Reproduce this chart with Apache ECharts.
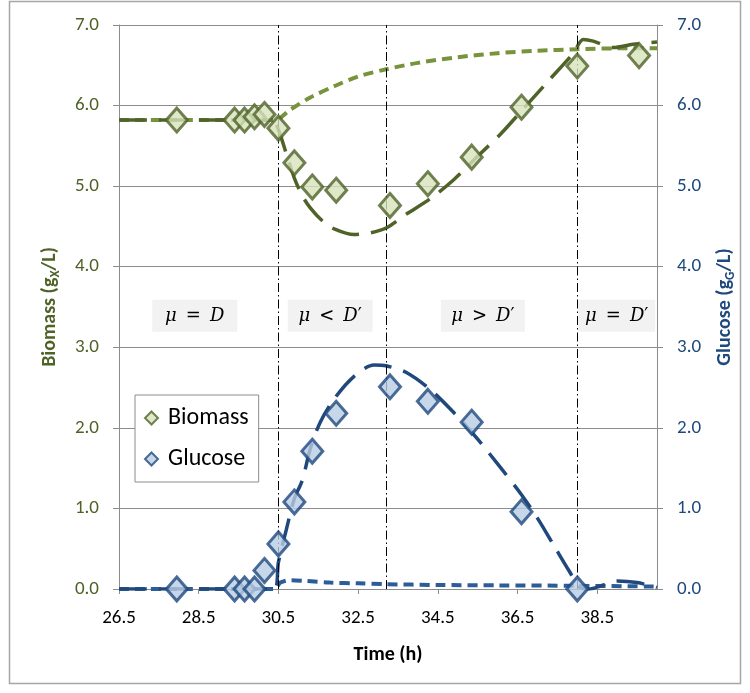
<!DOCTYPE html>
<html>
<head>
<meta charset="utf-8">
<script src="https://cdn.jsdelivr.net/npm/echarts@6/dist/echarts.min.js"></script>
<style>
html,body{margin:0;padding:0;background:#fff;}
#chart{width:750px;height:693px;}
</style>
</head>
<body>
<div id="chart"></div>
<script>
// Measured data (time in h)
var sampleTime = [27.95, 29.4, 29.65, 29.9, 30.15, 30.5, 30.9, 31.35, 31.95, 33.3, 34.25, 35.35, 36.6, 38.0, 39.55];
var biomass    = [5.82, 5.82, 5.82, 5.86, 5.89, 5.72, 5.29, 4.99, 4.95, 4.76, 5.03, 5.36, 5.98, 6.49, 6.62];
var glucose    = [0.0, 0.0, 0.0, 0.0, 0.23, 0.56, 1.08, 1.71, 2.18, 2.51, 2.33, 2.07, 0.96, 0.0];

// Model curve: biomass (short dash, light)
var bioModelAT = [26.5, 30.4, 30.8, 31.3, 31.9, 32.5, 33.2, 34.0, 35.0, 36.0, 37.0, 38.0, 39.0, 40.0];
var bioModelAV = [5.82, 5.82, 5.95, 6.10, 6.24, 6.36, 6.45, 6.53, 6.60, 6.65, 6.68, 6.70, 6.71, 6.71];
// Model curve: biomass (long dash, dark)
var bioModelBT = [26.5, 30.35, 30.5, 30.7, 30.9, 31.1, 31.3, 31.6, 31.9, 32.4, 32.8, 33.2, 33.7, 34.3, 34.9, 35.5, 36.1, 36.7, 37.3, 37.9, 38.15, 38.4, 38.9, 39.4, 40.0];
var bioModelBV = [5.82, 5.82, 5.70, 5.40, 5.10, 4.88, 4.73, 4.57, 4.47, 4.40, 4.42, 4.48, 4.65, 4.84, 5.08, 5.37, 5.66, 5.99, 6.32, 6.65, 6.82, 6.80, 6.72, 6.76, 6.79];
// Model curve: glucose (long dash, dark)
var gluModelBT = [26.5, 30.4, 30.5, 30.7, 30.9, 31.1, 31.3, 31.55, 31.9, 32.4, 32.9, 33.2, 33.7, 34.3, 34.9, 35.5, 36.1, 36.6, 37.0, 37.4, 37.8, 38.05, 38.3, 38.6, 39.0, 39.5, 40.0];
var gluModelBV = [0, 0, 0.33, 0.74, 1.12, 1.35, 1.74, 2.07, 2.36, 2.64, 2.78, 2.77, 2.69, 2.48, 2.19, 1.86, 1.49, 1.17, 0.88, 0.55, 0.22, 0.03, 0.0, 0.04, 0.10, 0.08, 0.02];
// Model curve: glucose (short dash)
var gluModelAT = [26.5, 30.4, 30.55, 30.8, 31.2, 31.8, 32.5, 33.2, 34.5, 36.0, 38.0, 40.0];
var gluModelAV = [0, 0, 0.08, 0.11, 0.10, 0.08, 0.07, 0.06, 0.05, 0.045, 0.04, 0.03];

// Phase boundaries and labels
var phaseLines = [30.5, 33.2, 38.0];
var phaseLabels = ['{i|μ}{o|\u2002=\u2002}{i|D}', '{i|μ}{o|\u2002<\u2002}{i|D}{o|′}', '{i|μ}{o|\u2002>\u2002}{i|D}{o|′}', '{i|μ}{o|\u2002=\u2002}{i|D}{o|′}'];
var phaseLabelX = [28.4, 31.8, 35.63, 38.99];
var phaseLabelY = 3.39;
var phaseLabelW = [85, 85, 84, 77];

var xTicks = {min: 26.5, max: 40, interval: 2};
var yTicks = {min: 0, max: 7, interval: 1};

function zip(a, b) { return a.map(function (t, i) { return [t, b[i]]; }).filter(function (p) { return p[1] !== undefined; }); }

var FONT = 'Carlito, Lato, sans-serif';
var GREEN = '#4f6228', LGREEN = '#77933c', BLUE = '#1f497d', BLUE2 = '#2c5d98';
var GRID = '#8c8c8c';

var chart = echarts.init(document.getElementById('chart'));
var option = {
  animation: false,
  backgroundColor: '#fff',
  graphic: [{
    type: 'rect', shape: {x: 9.5, y: 1.5, width: 731, height: 682},
    style: {fill: 'none', stroke: '#a6a6a6', lineWidth: 1.5}, silent: true, z: -10
  }],
  grid: {left: 119, right: 93, top: 25, bottom: 104},
  legend: {
    data: ['Biomass', 'Glucose'], orient: 'vertical', left: 135, top: 395,
    backgroundColor: '#fff', borderColor: '#8c8c8c', borderWidth: 1,
    padding: [11, 10, 11, 9], itemGap: 17, itemWidth: 13, itemHeight: 13,
    textStyle: {fontFamily: FONT, fontSize: 24, color: '#000', padding: [0, 0, 0, 5]}
  },
  xAxis: {
    type: 'value', min: xTicks.min, max: xTicks.max, interval: xTicks.interval,
    name: 'Time (h)', nameLocation: 'middle', nameGap: 56,
    nameTextStyle: {fontFamily: FONT, fontSize: 20, fontWeight: 'bold', color: '#000'},
    axisLine: {show: true, lineStyle: {color: GRID, width: 1}},
    axisTick: {show: true, length: 5, lineStyle: {color: GRID}},
    splitLine: {show: false},
    axisLabel: {fontFamily: FONT, fontSize: 19, color: '#000', margin: 20, showMaxLabel: false,
      formatter: function (v) { return v.toFixed(1); }}
  },
  yAxis: [{
    type: 'value', min: yTicks.min, max: yTicks.max, interval: yTicks.interval, position: 'left',
    name: '{a|Biomass (g}{s|X}{a|/L)}', nameLocation: 'middle', nameGap: 57, nameRotate: 90,
    nameTextStyle: {rich: {
      a: {fontFamily: FONT, fontSize: 20, fontWeight: 'bold', color: GREEN, lineHeight: 24},
      s: {fontFamily: FONT, fontSize: 13, fontWeight: 'bold', color: GREEN, lineHeight: 24, verticalAlign: 'bottom', padding: [8, 0, 0, 0]}
    }},
    axisLine: {show: true, lineStyle: {color: GRID}},
    axisTick: {show: true, length: 6, lineStyle: {color: GRID}},
    splitLine: {show: true, lineStyle: {color: GRID, width: 1}},
    axisLabel: {fontFamily: FONT, fontSize: 19, color: GREEN, margin: 20,
      formatter: function (v) { return v.toFixed(1); }}
  }, {
    type: 'value', min: yTicks.min, max: yTicks.max, interval: yTicks.interval, position: 'right',
    name: '{a|Glucose (g}{s|G}{a|/L)}', nameLocation: 'middle', nameGap: 56, nameRotate: 90,
    nameTextStyle: {rich: {
      a: {fontFamily: FONT, fontSize: 20, fontWeight: 'bold', color: BLUE, lineHeight: 24},
      s: {fontFamily: FONT, fontSize: 13, fontWeight: 'bold', color: BLUE, lineHeight: 24, verticalAlign: 'bottom', padding: [8, 0, 0, 0]}
    }},
    axisLine: {show: true, lineStyle: {color: GRID}},
    axisTick: {show: true, length: 6, lineStyle: {color: GRID}},
    splitLine: {show: false},
    axisLabel: {fontFamily: FONT, fontSize: 19, color: BLUE, margin: 20,
      formatter: function (v) { return v.toFixed(1); }}
  }],
  series: [
    {
      name: 'bioModelA', type: 'line', data: zip(bioModelAT, bioModelAV), showSymbol: false, smooth: 0.3,
      lineStyle: {color: LGREEN, width: 4, type: [10, 6]}, z: 2,
      markLine: {
        silent: true, symbol: 'none', label: {show: false},
        lineStyle: {color: '#000', width: 1, type: [9, 3, 1.5, 3]},
        data: phaseLines.map(function (x) { return {xAxis: x}; })
      },
      markPoint: {
        silent: true, symbol: 'rect',
        itemStyle: {color: '#f2f2f2'},
        data: phaseLabels.map(function (t, i) {
          return {coord: [phaseLabelX[i], phaseLabelY], symbolSize: [phaseLabelW[i], 32], value: t,
            label: {show: true, position: 'inside', formatter: t,
              rich: {
                i: {fontFamily: '"DejaVu Serif", serif', fontStyle: 'italic', fontSize: 18, color: '#000'},
                o: {fontFamily: '"DejaVu Serif", serif', fontSize: 18, color: '#000'}
              }}};
        })
      }
    },
    {
      name: 'bioModelB', type: 'line', data: zip(bioModelBT, bioModelBV), showSymbol: false, smooth: 0.3,
      lineStyle: {color: GREEN, width: 3.5, type: [28, 12]}, z: 2
    },
    {
      name: 'gluModelA', type: 'line', data: zip(gluModelAT, gluModelAV), showSymbol: false, smooth: 0.3,
      lineStyle: {color: BLUE2, width: 4, type: [10, 6]}, z: 2
    },
    {
      name: 'gluModelB', type: 'line', data: zip(gluModelBT, gluModelBV), showSymbol: false, smooth: 0.3,
      lineStyle: {color: BLUE, width: 3.5, type: [28, 12]}, z: 2
    },
    {
      name: 'Biomass', type: 'scatter', data: zip(sampleTime, biomass), symbol: 'diamond', symbolSize: [21, 24],
      itemStyle: {color: '#d7e4bd', borderColor: GREEN, borderWidth: 3}, z: 5
    },
    {
      name: 'Glucose', type: 'scatter', data: zip(sampleTime, glucose), symbol: 'diamond', symbolSize: [21, 24],
      itemStyle: {color: '#b9cde5', borderColor: BLUE, borderWidth: 3}, z: 5
    }
  ]
};
chart.setOption(option);
</script>
</body>
</html>
